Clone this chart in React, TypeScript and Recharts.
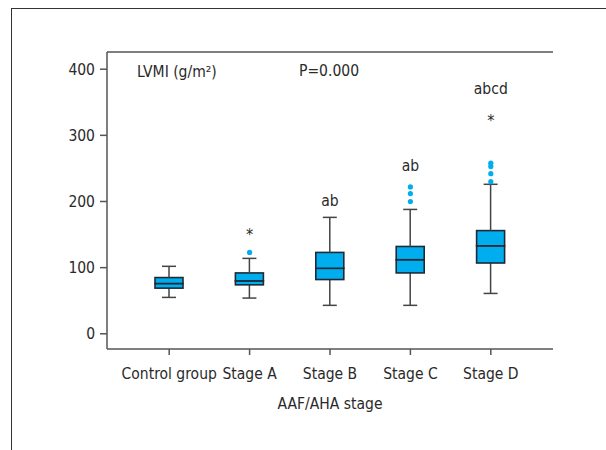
import React from 'react';
import {
  ComposedChart,
  Bar,
  Line,
  XAxis,
  YAxis,
  LabelList,
  Customized
} from 'recharts';

const categories = ['Control group', 'Stage A', 'Stage B', 'Stage C', 'Stage D'];
const mins = [55, 54, 43, 43, 61];
const q1s = [69, 74, 82, 92, 107];
const medians = [76, 80, 99, 112, 133];
const q3s = [85, 92, 123, 132, 156];
const maxs = [102, 114, 176, 188, 226];
const outliers: number[][] = [[], [123], [], [200, 212, 222], [230, 242, 253, 258]];
const sigLabels = ['', '', 'ab', 'ab', 'abcd'];
const sigY = [null, null, 201, 253, 370];
const starY = [null, 155, null, null, 327];
const yTicks = [0, 100, 200, 300, 400];

const FILL = '#00AEEF';
const EDGE = '#1e2b36';
const WHISKER = '#444';
const FRAME = '#555';
const TEXT = '#2a2a2a';
const FONT = "'DejaVu Sans Condensed', 'Open Sans', sans-serif";
const FS = 15.5;

const data = categories.map((name, i) => ({
  name,
  base: mins[i],
  lowWhisker: q1s[i] - mins[i],
  lowBox: medians[i] - q1s[i],
  highBox: q3s[i] - medians[i],
  highWhisker: maxs[i] - q3s[i],
  o0: outliers[i][0] ?? null,
  o1: outliers[i][1] ?? null,
  o2: outliers[i][2] ?? null,
  o3: outliers[i][3] ?? null,
  sig: sigLabels[i],
  sigY: sigY[i],
  star: starY[i] == null ? '' : '*',
  starY: starY[i]
}));

const BoxPart = (props: any) => {
  const { x, y, width, height } = props;
  return (
    <rect x={x} y={y} width={width} height={height} fill={FILL} stroke={EDGE} strokeWidth={1.6} />
  );
};

const makeWhisker = (capAtTop: boolean) => (props: any) => {
  const { x, y, width, height } = props;
  const cx = x + width / 2;
  const capY = capAtTop ? y : y + height;
  return (
    <g>
      <line x1={cx} y1={y} x2={cx} y2={y + height} stroke={WHISKER} strokeWidth={1.5} />
      <line x1={cx - 7} y1={capY} x2={cx + 7} y2={capY} stroke={WHISKER} strokeWidth={1.5} />
    </g>
  );
};

const textLabel = (dy: number, size: number) => (props: any) => {
  const { x, y, value } = props;
  if (!value) return null;
  return (
    <text x={x} y={y} dy={dy} textAnchor="middle" dominantBaseline="central" fill={TEXT} fontSize={size}>
      {value}
    </text>
  );
};

const Notes = () => (
  <g fill={TEXT} fontSize={FS}>
    <text x={137} y={72} dominantBaseline="central">LVMI (g/m²)</text>
    <text x={299} y={71} dominantBaseline="central">P=0.000</text>
  </g>
);

const outlierKeys = ['o0', 'o1', 'o2', 'o3'];

export default function App() {
  return (
    <div
      style={{
        position: 'fixed',
        left: 0,
        top: 0,
        width: 606,
        height: 450,
        overflow: 'hidden',
        background: '#fff',
        fontFamily: FONT
      }}
    >
      <div
        style={{
          position: 'absolute',
          left: 11,
          top: 8,
          width: 800,
          height: 800,
          borderTop: '1.5px solid #333',
          borderLeft: '1.5px solid #333'
        }}
      />
      <div style={{ position: 'absolute', left: 0, top: 0 }}>
        <ComposedChart
          width={606}
          height={450}
          data={data}
          margin={{ top: 51, right: 53, left: 57, bottom: 41 }}
        >
          <XAxis
            dataKey="name"
            height={60}
            padding={{ left: 22, right: 22 }}
            tickSize={6}
            tickMargin={13}
            axisLine={{ stroke: FRAME, strokeWidth: 1.5 }}
            tickLine={{ stroke: FRAME, strokeWidth: 1.5 }}
            tick={{ fill: TEXT, fontSize: FS }}
            interval={0}
            label={{ value: 'AAF/AHA stage', position: 'insideBottom', offset: 0, fill: TEXT, fontSize: FS }}
          />
          <XAxis
            xAxisId="top"
            orientation="top"
            dataKey="name"
            height={1}
            tick={false}
            tickLine={false}
            axisLine={{ stroke: FRAME, strokeWidth: 1.5 }}
          />
          <YAxis
            width={50}
            domain={[-23, 426]}
            ticks={yTicks}
            allowDataOverflow
            tickSize={7}
            tickMargin={5}
            axisLine={{ stroke: FRAME, strokeWidth: 1.5 }}
            tickLine={{ stroke: FRAME, strokeWidth: 1.5 }}
            tick={{ fill: TEXT, fontSize: FS }}
          />
          <YAxis
            yAxisId="right"
            orientation="right"
            width={0}
            tick={false}
            tickLine={false}
            axisLine={{ stroke: FRAME, strokeWidth: 1.5 }}
          />
          <Bar dataKey="base" stackId="box" barSize={28} fill="none" isAnimationActive={false} />
          <Bar dataKey="lowWhisker" stackId="box" barSize={28} shape={makeWhisker(false)} isAnimationActive={false} />
          <Bar dataKey="lowBox" stackId="box" barSize={28} shape={BoxPart} isAnimationActive={false} />
          <Bar dataKey="highBox" stackId="box" barSize={28} shape={BoxPart} isAnimationActive={false} />
          <Bar dataKey="highWhisker" stackId="box" barSize={28} shape={makeWhisker(true)} isAnimationActive={false} />
          {outlierKeys.map((k) => (
            <Line
              key={k}
              dataKey={k}
              stroke="none"
              dot={{ r: 2.6, fill: FILL, stroke: 'none' }}
              activeDot={false}
              isAnimationActive={false}
            />
          ))}
          <Line dataKey="sigY" stroke="none" dot={false} activeDot={false} isAnimationActive={false}>
            <LabelList dataKey="sig" content={textLabel(0, FS)} />
          </Line>
          <Line dataKey="starY" stroke="none" dot={false} activeDot={false} isAnimationActive={false}>
            <LabelList dataKey="star" content={textLabel(3, 16)} />
          </Line>
          <Customized component={Notes} />
        </ComposedChart>
      </div>
    </div>
  );
}
